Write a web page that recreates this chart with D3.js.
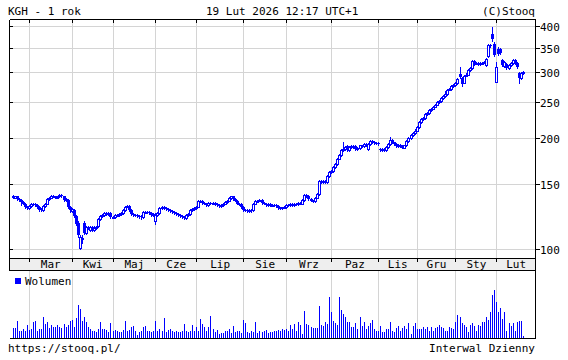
<!DOCTYPE html>
<html lang="pl">
<head>
<meta charset="UTF-8">
<title>KGH - 1 rok</title>
<script src="https://cdnjs.cloudflare.com/ajax/libs/d3/7.8.5/d3.min.js"></script>
<style>
    body { margin: 0; background: #fff; overflow: hidden; }
    svg { display: block; font-family: "DejaVu Sans Mono", monospace; font-size: 11px; }
</style>
</head>
<body>
<svg id="chart" width="568" height="360"></svg>
<script>
// daily candles, 19 Feb 2025 .. 19 Feb 2026 (trading day index)
const opens = [
    139.5,138,139,137,136,134,133,130,129,131,
    133,133,131.5,130,128.5,128,131,133,136.5,138,
    139.5,139,138,139,140,139,136,136,130,127,
    128,123,118,101,107,118,111,115,113,115,
    113,114.5,115.5,121,123,124,125,124.5,125,122,
    122.5,123.5,124,124.5,125,128,130.5,131,127.5,124.5,
    124,123.5,123,123,122,126,126.5,126,125,124,
    119,124,125,129,130,129,128.5,127.5,127,126,
    125,124.5,123.5,123,122.5,121.5,123.5,124.5,127.5,128.5,
    129,130.5,135,135.5,133.5,133,132,133.5,133,133.5,
    132.5,131.5,131,131.5,133,134.5,135.5,137.5,139,137,
    135.5,133,132.5,130,128,127.5,127,127.5,127.5,133,
    135,135.5,136,133.5,133,132,132.5,131.5,132,131.5,
    131,129.5,129.5,129.8,130,132,131.5,132.5,132,133,
    132.5,133.5,133,136,140,139.5,137,135.5,135,138,
    141,153,152,153,152.5,158,161.5,163,167,170.5,
    176,180,186,187,190,186,189,190,190,187,
    188,191,190.5,193,187,193,196,195,194,193.5,
    187,186,186.5,186,189.5,193,197.5,194.5,193,190.5,
    191.5,190,188.5,191,196,200,204,206,209.5,214,
    221,225,226,232,233,238,240,243,246,250,
    252,256,259,263,270,271.5,276,278,281,298,
    291,282,295,297,306,309,323,318,320,317,
    319,320,316,333,357,382,360,284,348,348,
    325,314,318,310,316,320,325,320,300,290,
    300
];
const highs = [
    140.3,139.8,139.8,137.8,136.8,134.8,133.8,130.8,131.8,133.8,
    133.8,133.8,132.3,130.8,129.3,131.8,133.8,137.3,138.8,140.5,
    140.5,139.8,139.3,141,140.8,139.8,137.3,136.8,130.8,129.3,
    128.8,123.8,119,109.5,109,119.5,115.8,115.8,115.8,115.8,
    115.3,115.8,121.8,123.8,124.8,126.3,125.8,125.8,125.8,123.3,
    124.3,124.8,125.3,125.8,128.8,131.3,132,131.8,128.3,125.3,
    124.8,124.3,123.8,123.8,126.8,127.3,127.3,126.8,125.8,125.3,
    125,125.8,129.8,130.8,130.8,129.8,129.3,128.3,127.8,126.8,
    125.8,125.3,124.3,123.8,123.3,124.3,125.3,128.3,129.3,129.8,
    131.3,135.8,136.3,136.3,134.3,133.8,134.3,134.3,134.3,134.3,
    133.3,132.3,132.3,133.8,135.3,136.3,138.3,139.8,139.8,137.8,
    136.3,133.8,133.3,130.8,128.8,128.3,128.3,128.3,133.8,135.8,
    136.3,136.8,136.8,134.3,133.8,133.3,133.3,132.8,132.8,132.3,
    131.8,130.3,130.5,131.3,132.8,132.8,133.3,133.3,133.8,133.8,
    134.3,134.3,136.8,141,140.8,140.3,137.8,136.3,138.8,141.8,
    154,154,154,154,159,162.5,164,168,171.5,177,
    181,187,195,190,191,190,191,191,191,189.5,
    192,192,194,194,194,197,197,196,195,194.5,
    188.5,187.5,187.5,190.5,194,201,198.5,195.5,194,192.5,
    192.5,191,192,197,201,205,207,211,216,222,
    226.5,227.5,233.5,234.5,239.5,241.5,244.5,247.5,251.5,253.5,
    258,261,268,272,273.5,278,280,283,291,312,
    293,297,299,308,311,325,325,322,322,321,
    322,323,330,359,359,400,364,322,352,350,
    327,324,320,318,322,327,327,322,302,302,
    304
];
const lows = [
    137.3,137.3,136.3,135.3,132,132.3,129.3,128.3,128.3,130.3,
    131.8,130.8,129.3,127.3,127.3,127.3,130.3,132.3,135.8,137.3,
    138.3,137.3,137.3,138.3,138.3,135.3,135.3,129.3,126.5,126.3,
    122.3,116.3,108,100,104,110,110.3,113.3,112.3,112.3,
    112.3,113.8,114.8,120.3,122.3,123.3,123.8,123.8,121.3,121.3,
    121.8,122.8,123.3,123.8,124.3,127.3,129.8,126.8,123.8,123.3,
    122.8,122.3,121.8,120.5,121.3,125.3,125.3,124.3,123.3,123.3,
    117,123.3,124.3,128.3,128.3,127.8,126.8,126.3,125.3,124.3,
    123.8,122.8,122.3,121.8,120.8,120.8,122.8,123.8,126.8,127.8,
    128.3,129.8,134.3,132.8,132.3,131.3,131.3,132.3,132.3,131.8,
    130.8,130.3,130.3,130.8,132.3,133.8,134.8,136.8,136.3,134.8,
    132.3,131.8,129.3,127.3,126.8,126.3,126.3,126.5,126.8,132.3,
    134.3,134.8,132.8,132.3,131.3,131.3,130.8,130.8,130.8,130.3,
    128.8,128.6,128.8,129,129.3,130.8,130.8,131.3,131.3,131.8,
    131.8,132.3,132.3,135.3,138.8,136.3,134.8,134.3,134.3,137.3,
    140.3,151,151,151.5,151.5,157,160.5,162,166,169.5,
    175,179,185,186,185,185,188,188,185.5,186,
    187,189.5,189.5,190.5,186,192,194,193,192.5,192,
    185,185,185,185,188.5,192,193.5,192,189.5,189.5,
    189,187.5,187.5,190,195,199,203,205,208.5,213,
    220,224,225,231,232,237,239,242,245,249,
    251,255,258,262,269,270.5,275,277,280,291,
    277,281,293.5,295.5,304.5,307.5,316,316.5,315.5,315.5,
    317.5,318.5,314,331,353,366,333,283,336,338,
    313,312,307,308,314,318,318,309,282,288,
    298
];
const closes = [
    138,139,137,136,134,133,130,129,131,133,
    132.5,131.5,130,128,128,131,133,136.5,138,139.5,
    139,138,138.5,140,139,136,136.5,130,128,128.5,
    123,117,109,108,106,111,115,114,115,113,
    114.5,115,121,123,124,125.5,124.5,125,122,122.5,
    123.5,124,124.5,125,128,130.5,131,127.5,124.5,124,
    123.5,123,122.5,122,126,126.5,126,125,124,124.5,
    124,125,129,130,129,128.5,127.5,127,126,125,
    124.5,123.5,123,122.5,121.5,123.5,124.5,127.5,128.5,129,
    130.5,135,135.5,133.5,133,132,133.5,133,133.5,132.5,
    131.5,131,131.5,133,134.5,135.5,137.5,139,137,135.5,
    133,132.5,130,128,127.5,127,127.5,127.3,133,135,
    135.5,136,133.5,133,132,132.5,131.5,132,131.5,131,
    129.5,129.4,129.8,130.5,132,131.5,132.5,132,133,132.5,
    133.5,133,136,140,139.5,137,135.5,135,138,141,
    153,152,153,152.5,158,161.5,163,167,170.5,176,
    180,186,187,189,186,189,190,189,186.5,188.5,
    191,190.5,193,191.5,193,196,195,194,193.5,193,
    186,186.5,186,189.5,193,197,194.5,193,190.5,191.5,
    190,188.5,191,196,200,204,206,209.5,214.5,221,
    225,226,232,233,238,240,243,246,250,252,
    256,259,263,270,271.5,276,278,281,289,293,
    280,295,297,306,309,323,318,320,317,319,
    320,321,328,357,355,370,335,312,338,340,
    316,322,310,316,320,325,320,312,290,300,
    302
];
// volume in thousands of shares
const volumes = [
    480,480,870,330,370,450,330,670,400,450,
    820,870,330,450,450,1030,700,790,500,670,
    530,530,650,570,500,700,530,670,870,900,
    530,990,1650,1450,870,1070,820,530,450,330,
    330,280,450,780,450,450,400,280,750,330,
    420,370,280,320,400,870,370,400,530,620,
    330,170,280,330,570,620,370,330,280,330,
    870,370,450,330,1000,320,400,450,370,300,
    370,280,280,330,700,330,280,370,670,330,
    570,330,950,700,530,330,570,1120,450,280,
    400,200,230,230,370,370,450,230,620,280,
    370,330,230,900,730,280,230,330,280,820,
    230,330,280,330,400,230,280,280,330,370,
    400,330,450,400,450,330,670,450,700,330,
    780,670,200,1370,700,670,570,500,500,500,
    1620,670,580,800,700,2040,1290,870,730,670,
    2040,1420,1200,1070,820,780,570,570,730,450,
    1070,620,780,450,620,770,920,450,330,330,
    580,280,280,450,450,780,370,280,500,620,
    370,500,620,450,750,200,620,750,450,450,
    450,570,450,530,330,530,330,500,530,670,
    570,500,330,330,570,500,450,820,1170,1040,
    730,670,570,280,670,750,620,370,670,580,
    820,780,1040,900,1290,2170,2400,1790,1290,1490,
    950,1290,370,750,620,750,370,780,870,830,
    120
];
// index of the first session of each month
const monthStarts = [8, 29, 49, 70, 90, 113, 134, 156, 179, 198, 217, 237];
const monthNames = ["Mar", "Kwi", "Maj", "Cze", "Lip", "Sie", "Wrz", "Paz", "Lis", "Gru", "Sty", "Lut"];
const priceTicks = [100, 150, 200, 250, 300, 350, 400];

const blue = "#0000ff";
const gridColor = "#d4d4d4";

// frame
const plotLeft = 9.5, plotRight = 535.5, plotTop = 19.5;
const bandTop = 258.5, bandBottom = 270.5, volBottom = 338.5;

const svg = d3.select("#chart");
svg.append("rect").attr("width", 568).attr("height", 360).attr("fill", "#fff");

const x = d3.scaleLinear().domain([0, closes.length - 1]).range([13, 523.3]);
const y = d3.scaleLog().domain([100, 400]).range([249.3, 26.7]);
const yVol = d3.scaleLinear().domain([0, 3400]).range([338, 270]);
const px = v => Math.floor(v) + 0.5;

const g = svg.append("g").attr("shape-rendering", "crispEdges");

// x-axis band
g.append("rect")
    .attr("x", plotLeft).attr("y", bandTop)
    .attr("width", plotRight - plotLeft).attr("height", bandBottom - bandTop)
    .attr("fill", "#eeeeee");

// grid
g.selectAll(".hgrid")
    .data(priceTicks)
    .enter()
    .append("line")
    .attr("x1", plotLeft).attr("x2", plotRight)
    .attr("y1", d => px(y(d))).attr("y2", d => px(y(d)))
    .attr("stroke", gridColor);

g.selectAll(".vgrid")
    .data(monthStarts)
    .enter()
    .append("line")
    .attr("x1", d => px(x(d))).attr("x2", d => px(x(d)))
    .attr("y1", plotTop).attr("y2", bandTop)
    .attr("stroke", gridColor);

g.selectAll(".vgridVol")
    .data(monthStarts)
    .enter()
    .append("line")
    .attr("x1", d => px(x(d))).attr("x2", d => px(x(d)))
    .attr("y1", bandBottom).attr("y2", volBottom)
    .attr("stroke", gridColor);

// month ticks on top border and on the band
g.selectAll(".ttick")
    .data(monthStarts)
    .enter()
    .append("line")
    .attr("x1", d => px(x(d))).attr("x2", d => px(x(d)))
    .attr("y1", plotTop).attr("y2", plotTop + 3)
    .attr("stroke", "#000");

g.selectAll(".btick")
    .data(monthStarts)
    .enter()
    .append("line")
    .attr("x1", d => px(x(d))).attr("x2", d => px(x(d)))
    .attr("y1", bandTop).attr("y2", bandTop + 3)
    .attr("stroke", "#000");

// candles
const candles = g.selectAll(".candle")
    .data(closes.map((c, i) => ({ i, o: opens[i], h: highs[i], l: lows[i], c })))
    .enter()
    .append("g");

candles.append("line")
    .attr("x1", d => px(x(d.i))).attr("x2", d => px(x(d.i)))
    .attr("y1", d => Math.round(y(d.h))).attr("y2", d => Math.round(y(d.l)) + 1)
    .attr("stroke", blue);

candles.append("rect")
    .each(function (d) {
        const up = d.c >= d.o;
        const y1 = Math.round(y(Math.max(d.o, d.c)));
        const y2 = Math.round(y(Math.min(d.o, d.c)));
        const cx = Math.floor(x(d.i));
        if (up) {
            d3.select(this)
                .attr("x", cx - 0.5).attr("y", y1 + 0.5)
                .attr("width", 2).attr("height", Math.max(1, y2 - y1))
                .attr("fill", "#fff").attr("stroke", blue);
        } else {
            d3.select(this)
                .attr("x", cx - 1).attr("y", y1)
                .attr("width", 3).attr("height", Math.max(1, y2 - y1))
                .attr("fill", blue);
        }
    });

// volume bars
g.selectAll(".vol")
    .data(volumes)
    .enter()
    .append("rect")
    .attr("x", (d, i) => Math.floor(x(i)))
    .attr("y", d => Math.round(yVol(d)))
    .attr("width", 1)
    .attr("height", d => 338 - Math.round(yVol(d)))
    .attr("fill", blue);

// borders
const border = [
    [plotLeft, plotTop, plotRight, plotTop],
    [plotLeft, plotTop, plotLeft, bandBottom],
    [plotRight, plotTop, plotRight, volBottom],
    [plotLeft, bandTop, plotRight, bandTop],
    [plotLeft, bandBottom, plotRight, bandBottom],
    [plotLeft, volBottom, plotRight, volBottom]
];
g.selectAll(".border")
    .data(border)
    .enter()
    .append("line")
    .attr("x1", d => d[0]).attr("y1", d => d[1])
    .attr("x2", d => d[2]).attr("y2", d => d[3])
    .attr("stroke", "#000");

// y ticks, both sides
g.selectAll(".ltick")
    .data(priceTicks)
    .enter()
    .append("line")
    .attr("x1", plotLeft).attr("x2", plotLeft + 3)
    .attr("y1", d => px(y(d))).attr("y2", d => px(y(d)))
    .attr("stroke", "#000");

g.selectAll(".rtick")
    .data(priceTicks)
    .enter()
    .append("line")
    .attr("x1", plotRight).attr("x2", plotRight + 4)
    .attr("y1", d => px(y(d))).attr("y2", d => px(y(d)))
    .attr("stroke", "#000");

svg.selectAll(".ylabel")
    .data(priceTicks)
    .enter()
    .append("text")
    .attr("x", 540)
    .attr("y", d => px(y(d)) + 4)
    .text(d => d);

// month labels, centred in each month
const monthEdges = monthStarts.map(s => x(s)).concat([plotRight]);
svg.selectAll(".mlabel")
    .data(monthNames)
    .enter()
    .append("text")
    .attr("x", (d, k) => (monthEdges[k] + monthEdges[k + 1]) / 2)
    .attr("y", 268)
    .attr("text-anchor", "middle")
    .text(d => d);

// title row
svg.append("text").attr("x", 8).attr("y", 15).text("KGH - 1 rok");
svg.append("text").attr("x", 206).attr("y", 15).text("19 Lut 2026 12:17 UTC+1");
svg.append("text").attr("x", 535).attr("y", 15).attr("text-anchor", "end").text("(C)Stooq");

// volume legend
g.append("rect").attr("x", 15).attr("y", 278).attr("width", 6).attr("height", 6).attr("fill", blue);
svg.append("text").attr("x", 25).attr("y", 285).text("Wolumen");

// footer
svg.append("text").attr("x", 8).attr("y", 352).text("https://stooq.pl/");
svg.append("text").attr("x", 535).attr("y", 352).attr("text-anchor", "end").text("Interwal Dzienny");
</script>
</body>
</html>
